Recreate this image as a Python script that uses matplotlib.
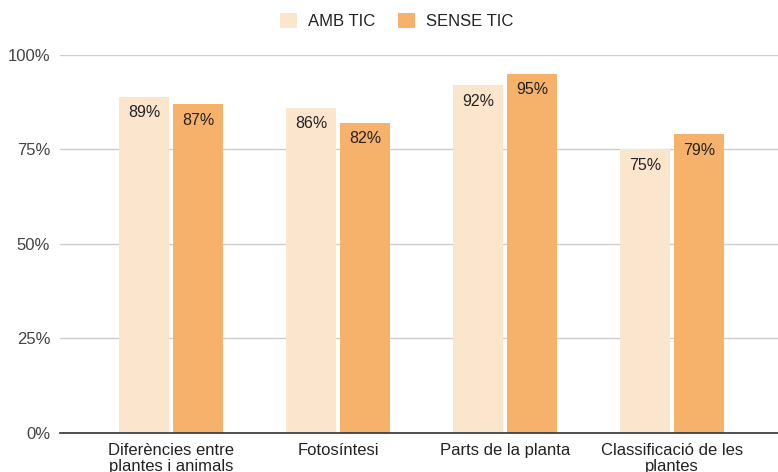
import matplotlib.pyplot as plt
import numpy as np

plt.rcParams['font.family'] = ['Liberation Sans', 'DejaVu Sans']

categories = ["Diferències entre\nplantes i animals", "Fotosíntesi",
              "Parts de la planta", "Classificació de les\nplantes"]
amb_tic = [89, 86, 92, 75]
sense_tic = [87, 82, 95, 79]
series_names = ["AMB TIC", "SENSE TIC"]
colors = ["#FCE5CD", "#F6B26B"]

fig = plt.figure(figsize=(7.78, 4.72), dpi=100)
ax = fig.add_axes([0.0771, 0.0826, 0.923, 0.801])

x = np.arange(len(categories))
w = 0.30
b1 = ax.bar(x - 0.162, amb_tic, w, color=colors[0], label=series_names[0], zorder=3)
b2 = ax.bar(x + 0.162, sense_tic, w, color=colors[1], label=series_names[1], zorder=3)

for bars in (b1, b2):
    for r in bars:
        h = r.get_height()
        ax.annotate(f"{h:.0f}%", (r.get_x() + r.get_width() / 2, h),
                    xytext=(0, -11.5), textcoords="offset points",
                    ha="center", va="center", fontsize=11.5, color="#222222", zorder=4)

ax.set_xlim(-0.665, 3.635)
ax.set_ylim(0, 100)
ax.set_yticks([0, 25, 50, 75, 100])
ax.set_yticklabels(["0%", "25%", "50%", "75%", "100%"])
ax.set_xticks(x)
ax.set_xticklabels(categories, fontsize=12, color="#222222", linespacing=1.1)
ax.tick_params(axis="y", length=0, labelsize=12, labelcolor="#444444", pad=7)
ax.tick_params(axis="x", length=0, pad=7)
ax.grid(axis="y", color="#CCCCCC", linewidth=1, zorder=0)
for s in ["top", "right", "left"]:
    ax.spines[s].set_visible(False)
ax.spines["bottom"].set_color("#333333")
ax.spines["bottom"].set_linewidth(1.2)
ax.spines["bottom"].set_zorder(5)

fig.legend(loc="upper center", bbox_to_anchor=(0.5097, 1.005), ncol=2, frameon=False,
           fontsize=12, handlelength=1.0, handleheight=1.0, columnspacing=1.4,
           handletextpad=0.65, labelcolor="#222222")

fig.savefig("out.png", dpi=100)
